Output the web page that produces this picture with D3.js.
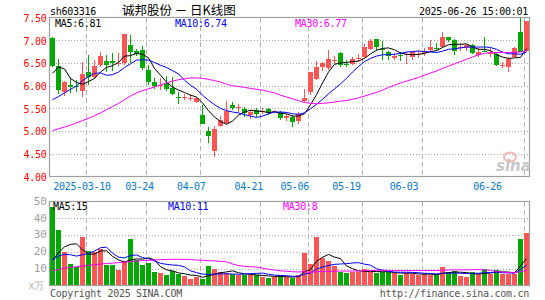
<!DOCTYPE html>
<html>
<head>
<meta charset="utf-8">
<script src="https://cdn.jsdelivr.net/npm/d3@7"></script>
<style>
body { margin: 0; background: #fff; }
svg { display: block; }
.mono { font-family: "DejaVu Sans Mono", monospace; font-size: 10px; letter-spacing: -0.28px; }
</style>
</head>
<body>
<svg id="chart" width="545" height="300"></svg>
<script>
// trading days shown, 2025-02-28 .. 2025-06-26
var dates = ["02-28","03-03","03-04","03-05","03-06","03-07","03-10","03-11","03-12","03-13",
  "03-14","03-17","03-18","03-19","03-20","03-21","03-24","03-25","03-26","03-27",
  "03-28","03-31","04-01","04-02","04-03","04-07","04-08","04-09","04-10","04-11",
  "04-14","04-15","04-16","04-17","04-18","04-21","04-22","04-23","04-24","04-25",
  "04-28","04-29","04-30","05-06","05-07","05-08","05-09","05-12","05-13","05-14",
  "05-15","05-16","05-19","05-20","05-21","05-22","05-23","05-26","05-27","05-28",
  "05-29","05-30","06-03","06-04","06-05","06-06","06-09","06-10","06-11","06-12",
  "06-13","06-16","06-17","06-18","06-19","06-20","06-23","06-24","06-25","06-26"];

var open = [7.05,6.43,5.85,6.02,6.00,5.88,6.29,6.20,6.46,6.54,
  6.55,6.47,6.50,6.89,6.76,6.79,6.35,6.07,5.99,6.06,
  5.94,5.76,5.73,5.72,5.64,5.36,5.01,4.56,5.12,5.18,
  5.57,5.50,5.48,5.35,5.46,5.43,5.48,5.44,5.43,5.28,
  5.32,5.22,5.66,5.85,6.15,6.42,6.38,6.54,6.71,6.48,
  6.47,6.59,6.62,6.81,7.03,6.80,6.73,6.60,6.67,6.69,
  6.64,6.69,6.73,6.79,6.83,6.84,7.06,7.01,6.85,6.82,
  6.90,6.68,6.77,6.71,6.69,6.45,6.40,6.62,7.19,6.76];
var high = [7.06,6.58,6.10,6.16,6.13,6.52,6.68,6.57,6.74,6.68,
  6.71,6.71,7.14,7.11,6.80,6.87,6.45,6.17,6.17,6.21,
  6.20,5.87,5.82,5.82,5.76,5.58,5.10,5.12,5.33,5.67,
  5.65,5.60,5.52,5.47,5.50,5.51,5.51,5.47,5.45,5.37,
  5.35,5.41,5.92,6.29,6.55,6.53,6.79,6.66,6.74,6.57,
  6.62,6.70,6.91,7.03,7.03,6.99,6.77,6.72,6.74,6.73,
  6.76,6.79,6.83,7.01,6.93,7.18,7.08,7.03,6.93,6.91,
  6.91,6.82,7.06,6.82,6.75,6.53,6.62,6.84,7.50,7.43];
var low = [6.42,5.82,5.78,5.83,5.85,5.76,6.02,6.15,6.41,6.31,
  6.32,6.43,6.45,6.50,6.66,6.35,6.02,5.92,5.91,5.88,
  5.80,5.59,5.68,5.66,5.62,5.15,4.74,4.44,5.10,5.15,
  5.47,5.43,5.30,5.27,5.31,5.38,5.36,5.42,5.25,5.22,
  5.10,5.15,5.63,5.79,6.13,6.33,6.35,6.48,6.41,6.40,
  6.45,6.53,6.60,6.79,6.77,6.57,6.57,6.56,6.55,6.48,
  6.57,6.61,6.65,6.75,6.77,6.83,6.95,6.68,6.77,6.77,
  6.69,6.64,6.73,6.64,6.44,6.38,6.31,6.61,6.74,6.75];
var close = [6.44,5.90,6.09,5.96,5.96,6.26,6.18,6.43,6.66,6.46,
  6.49,6.49,7.14,6.74,6.70,6.39,6.07,5.99,6.02,5.93,
  5.82,5.75,5.74,5.73,5.72,5.15,4.90,5.04,5.24,5.44,
  5.50,5.52,5.39,5.43,5.37,5.44,5.40,5.45,5.28,5.34,
  5.19,5.38,5.72,6.29,6.42,6.49,6.59,6.56,6.46,6.47,
  6.59,6.60,6.86,6.99,6.84,6.79,6.66,6.66,6.66,6.70,
  6.74,6.70,6.74,6.86,6.82,7.08,7.01,6.77,6.86,6.90,
  6.71,6.75,6.76,6.72,6.46,6.46,6.59,6.82,6.75,7.43];

// volume, in 万 (10k)
var volume = [47,33,20,13,11,29,20.5,20,22,12,
  12.5,9.3,14.3,27.7,15,12.4,13.3,7.9,7.3,6.3,
  8.8,7,5.4,3.6,5,3.6,11.5,9.7,8,7.5,
  7,6,6.4,6,6.3,5.2,4.6,5,6,5,
  4.4,6,19.4,12.9,29.1,16.6,14.5,11.6,8.2,7.6,
  8,8,10,7.8,7.6,7.8,7.8,7.6,6.4,7.6,
  7.1,6,6.8,6.3,6,11,8.2,8.4,5.8,5.2,
  8,7.1,9.8,7.1,9.2,7.1,7,7,27.8,31.2];

// moving averages as drawn on the chart
var ma5 = [6.27,6.41,6.37,6.16,6.07,6.03,6.09,6.16,6.30,6.40,
  6.44,6.51,6.65,6.66,6.71,6.69,6.61,6.38,6.23,6.08,
  5.97,5.90,5.85,5.79,5.75,5.62,5.45,5.31,5.21,5.15,
  5.22,5.35,5.42,5.46,5.44,5.43,5.41,5.42,5.39,5.38,
  5.33,5.33,5.38,5.58,5.80,6.06,6.30,6.47,6.50,6.51,
  6.53,6.54,6.60,6.70,6.78,6.82,6.83,6.79,6.72,6.69,
  6.68,6.69,6.71,6.75,6.77,6.84,6.90,6.91,6.91,6.92,
  6.85,6.80,6.80,6.77,6.68,6.63,6.60,6.61,6.62,6.81];
var ma10 = [5.69,5.76,5.84,5.92,5.99,6.11,6.20,6.27,6.28,6.23,
  6.24,6.30,6.40,6.48,6.56,6.57,6.56,6.51,6.45,6.40,
  6.33,6.26,6.12,6.01,5.92,5.79,5.68,5.58,5.50,5.45,
  5.42,5.40,5.36,5.33,5.30,5.33,5.38,5.42,5.42,5.41,
  5.38,5.37,5.40,5.49,5.59,5.70,5.82,5.93,6.04,6.16,
  6.30,6.42,6.53,6.60,6.65,6.68,6.68,6.69,6.71,6.74,
  6.75,6.76,6.75,6.74,6.73,6.76,6.80,6.81,6.83,6.85,
  6.85,6.85,6.85,6.84,6.80,6.74,6.70,6.70,6.69,6.74];
var ma30 = [5.01,5.05,5.09,5.13,5.18,5.23,5.28,5.34,5.40,5.47,
  5.54,5.61,5.69,5.77,5.84,5.89,5.93,5.97,6.02,6.06,
  6.10,6.13,6.15,6.17,6.17,6.16,6.14,6.11,6.08,6.03,
  6.00,5.98,5.96,5.94,5.92,5.90,5.87,5.84,5.79,5.75,
  5.71,5.67,5.63,5.61,5.60,5.61,5.62,5.64,5.66,5.67,
  5.70,5.73,5.77,5.81,5.85,5.90,5.96,6.01,6.06,6.10,
  6.14,6.18,6.23,6.28,6.32,6.38,6.43,6.48,6.53,6.58,
  6.63,6.68,6.71,6.73,6.73,6.73,6.73,6.73,6.74,6.77];
var vma5 = [15.2,19.5,23,24.5,24.8,21.2,18.7,18.7,20.5,20.7,
  17.4,15.2,14.0,15.2,15.8,15.7,16.5,15.3,11.2,9.4,
  8.7,7.5,7.0,6.2,6.0,4.9,5.8,6.7,7.6,8.1,
  8.7,7.6,7.0,6.6,6.3,6.0,5.7,5.4,5.4,5.2,
  5.0,5.3,8.2,9.5,14.4,16.8,18.5,16.9,16.0,11.7,
  10.0,8.7,8.4,8.3,8.3,8.2,8.2,7.7,7.4,7.4,
  7.3,6.9,6.8,6.8,6.4,7.2,7.7,8.0,7.9,7.7,
  7.1,6.9,7.2,7.4,8.2,8.1,8.0,7.5,11.6,16.0];
var vma10 = [15.2,17.5,18.6,18.3,17.5,18.3,19.0,20.5,22.5,22.8,
  19.3,16.9,16.4,17.8,18.2,16.6,15.9,14.6,13.2,12.6,
  12.2,12.0,11.1,8.7,7.7,6.8,6.6,6.8,6.9,7.0,
  6.8,6.7,6.8,7.1,7.2,7.4,6.7,6.2,6.0,5.8,
  5.5,5.5,6.8,7.5,9.8,10.9,11.9,12.6,12.8,13.0,
  13.4,13.6,12.7,12.1,10.0,9.1,8.4,8.0,7.9,7.9,
  7.8,7.6,7.3,7.1,6.9,7.3,7.3,7.4,7.3,7.1,
  7.2,7.3,7.6,7.7,8.0,7.6,7.5,7.3,9.5,12.1];
var vma30 = [8.7,9.5,10.3,10.8,11.2,11.6,12.0,12.4,12.8,13.1,
  13.3,13.6,13.9,14.2,14.5,14.8,15.0,15.2,15.4,15.5,
  15.6,15.6,15.5,15.4,15.2,15.0,14.8,14.6,14.4,14.1,
  12.8,11.9,11.4,11.2,11.0,10.3,9.7,9.2,8.7,8.5,
  8.2,8.1,8.2,7.8,8.2,8.4,8.4,8.5,8.6,8.6,
  8.6,8.6,8.8,8.9,9.0,9.1,9.0,8.9,8.9,8.9,
  8.9,8.9,8.9,8.9,8.9,9.1,9.2,9.3,9.3,9.3,
  9.4,9.5,9.2,9.0,8.3,8.0,7.7,7.6,8.2,9.0];

var priceTicks = [4.0, 4.5, 5.0, 5.5, 6.0, 6.5, 7.0, 7.5];
var volTicks = [10, 20, 30, 40, 50];
var dateTicks = ["03-10", "03-24", "04-07", "04-21", "05-06", "05-19", "06-03", "06-26"];
var dateTickLabels = ["2025-03-10", "03-24", "04-07", "04-21", "05-06", "05-19", "06-03", "06-26"];

var maLabels = ["MA5:6.81", "MA10:6.74", "MA30:6.77"];
var volMaLabels = ["MA5:15", "MA10:11", "MA30:8"];

var RED = "#ff5555", GREEN = "#00a800";
var maColors = ["#000000", "#0000ff", "#ff00ff"];

var svg = d3.select("#chart");
var left = 49.5, right = 529.5;

var x = d3.scaleBand().domain(d3.range(dates.length)).range([left, right]);
var y = d3.scaleLinear().domain([4, 7.5]).range([176.5, 17.5]);
var yv = d3.scaleLinear().domain([0, 50]).range([285.5, 201.5]);
// date labels sit on their own, slightly compressed spacing
var xl = d3.scaleLinear().domain([0, dates.length - 1]).range([47.5, 501.75]);

function cx(i) { return x(i) + 3; }
function up(i) { return close[i] >= open[i]; }

// ---- header texts
svg.append("text").attr("class", "mono").attr("x", 50).attr("y", 15).text("sh603316");
svg.append("text").attr("x", 122).attr("y", 15)
  .style("font-family", '"Noto Sans CJK SC", sans-serif').style("font-size", "12.5px")
  .text("诚邦股份 － 日K线图");
svg.append("text").attr("class", "mono").attr("x", 528).attr("y", 15)
  .attr("text-anchor", "end").text("2025-06-26 15:00:01");

// ---- grids
function hgrid(g, ticks, scale) {
  g.selectAll(".hg").data(ticks).enter().append("line")
    .attr("x1", left).attr("x2", right)
    .attr("y1", function(d) { return Math.round(scale(d)) + 0.5; })
    .attr("y2", function(d) { return Math.round(scale(d)) + 0.5; })
    .attr("stroke", "#a8a8a8").attr("stroke-dasharray", "1,2")
    .attr("shape-rendering", "crispEdges");
}
function vgrid(g, top, bottom) {
  g.selectAll(".vg").data(dateTicks).enter().append("line")
    .attr("x1", function(d) { return x(dates.indexOf(d)) + 1; })
    .attr("x2", function(d) { return x(dates.indexOf(d)) + 1; })
    .attr("y1", top).attr("y2", bottom)
    .attr("stroke", "#b4b4b4").attr("stroke-dasharray", "5,3")
    .attr("shape-rendering", "crispEdges");
}

var gPrice = svg.append("g");
hgrid(gPrice, priceTicks.slice(1, -1), y);
vgrid(gPrice, 18, 176);
var gVol = svg.append("g");
hgrid(gVol, volTicks.slice(0, -1), yv);
vgrid(gVol, 202, 285);

// ---- candles
var candles = svg.append("g").attr("shape-rendering", "crispEdges")
  .selectAll(".k").data(dates).enter().append("g");
candles.append("line")
  .attr("x1", function(d, i) { return cx(i); })
  .attr("x2", function(d, i) { return cx(i); })
  .attr("y1", function(d, i) { return y(high[i]); })
  .attr("y2", function(d, i) { return y(low[i]); })
  .attr("stroke", function(d, i) { return up(i) ? RED : GREEN; });
candles.append("rect")
  .attr("x", function(d, i) { return x(i) + 0.5; })
  .attr("width", 5)
  .attr("y", function(d, i) { return y(Math.max(open[i], close[i])); })
  .attr("height", function(d, i) { return Math.max(1, Math.abs(y(open[i]) - y(close[i]))); })
  .attr("fill", function(d, i) { return up(i) ? RED : GREEN; });

// ---- volume bars
svg.append("g").attr("shape-rendering", "crispEdges")
  .selectAll("rect").data(volume).enter().append("rect")
  .attr("x", function(d, i) { return x(i) + 0.5; })
  .attr("width", 5)
  .attr("y", function(d) { return yv(d); })
  .attr("height", function(d) { return yv(0) - yv(d); })
  .attr("fill", function(d, i) { return up(i) ? RED : GREEN; });

// ---- MA lines
function maLine(scale) {
  return d3.line().x(function(d, i) { return cx(i); }).y(function(d) { return scale(d); });
}
[ma5, ma10, ma30].forEach(function(s, k) {
  svg.append("path").datum(s).attr("d", maLine(y)).attr("fill", "none")
    .attr("stroke", maColors[k]).attr("stroke-width", 1);
});
[vma5, vma10, vma30].forEach(function(s, k) {
  svg.append("path").datum(s).attr("d", maLine(yv)).attr("fill", "none")
    .attr("stroke", maColors[k]).attr("stroke-width", 1);
});

// ---- frames
svg.append("rect").attr("x", left).attr("y", 17.5).attr("width", right - left).attr("height", 159)
  .attr("fill", "none").attr("stroke", "#a0a0a0").attr("stroke-width", 1.2);
svg.append("rect").attr("x", left).attr("y", 201.5).attr("width", right - left).attr("height", 84)
  .attr("fill", "none").attr("stroke", "#a0a0a0").attr("stroke-width", 1.2);

// ---- axes labels
var axP = svg.append("g").attr("transform", "translate(46.5,0)")
  .call(d3.axisLeft(y).tickValues(priceTicks).tickFormat(d3.format(".2f")).tickSize(0).tickPadding(0));
axP.select(".domain").remove();
axP.selectAll("text").attr("class", "mono").attr("fill", "#ff0000").attr("dy", "0.38em");

var axV = svg.append("g").attr("transform", "translate(46.5,0)")
  .call(d3.axisLeft(yv).tickValues(volTicks).tickFormat(d3.format("d")).tickSize(0).tickPadding(0));
axV.select(".domain").remove();
axV.selectAll("text").attr("class", "mono").attr("fill", "#a0a0a0").attr("dy", "0.26em")
  .style("font-size", "11px");
svg.append("text").attr("class", "mono").attr("x", 44).attr("y", 288.5).attr("text-anchor", "end")
  .attr("fill", "#b0b0b0").text("x万");

svg.append("g").selectAll("text").data(dateTicks).enter().append("text")
  .attr("class", "mono").attr("fill", "#0a78c8").attr("text-anchor", "middle")
  .attr("y", 189.5)
  .attr("x", function(d) { return Math.min(xl(dates.indexOf(d)), 487.5); })
  .text(function(d, i) { return dateTickLabels[i]; });

// ---- MA legends
svg.append("g").selectAll("text").data(maLabels).enter().append("text")
  .attr("class", "mono").attr("y", 27)
  .attr("x", function(d, i) { return 55 + i * 120; })
  .attr("fill", function(d, i) { return maColors[i]; })
  .text(function(d) { return d; });
svg.append("g").selectAll("text").data(volMaLabels).enter().append("text")
  .attr("class", "mono").attr("y", 209.5)
  .attr("x", function(d, i) { return 53 + i * 115; })
  .attr("fill", function(d, i) { return maColors[i]; })
  .text(function(d) { return d; });

// ---- footer
svg.append("text").attr("class", "mono").attr("x", 50).attr("y", 297).attr("fill", "#555")
  .text("Copyright 2025 SINA.COM");
svg.append("text").attr("class", "mono").attr("x", 529).attr("y", 297).attr("fill", "#555")
  .attr("text-anchor", "end").text("http://finance.sina.com.cn");

// ---- sina watermark
svg.append("ellipse").attr("cx", 510).attr("cy", 157).attr("rx", 6).attr("ry", 4.5)
  .attr("fill", "none").attr("stroke", "#f2b8b8").attr("stroke-width", 2);
svg.append("text").attr("x", 496).attr("y", 171)
  .style("font-family", '"DejaVu Sans", sans-serif').style("font-size", "15px")
  .style("font-weight", "bold").style("font-style", "italic")
  .attr("fill", "#c8c8c8").text("sina");
</script>
</body>
</html>
